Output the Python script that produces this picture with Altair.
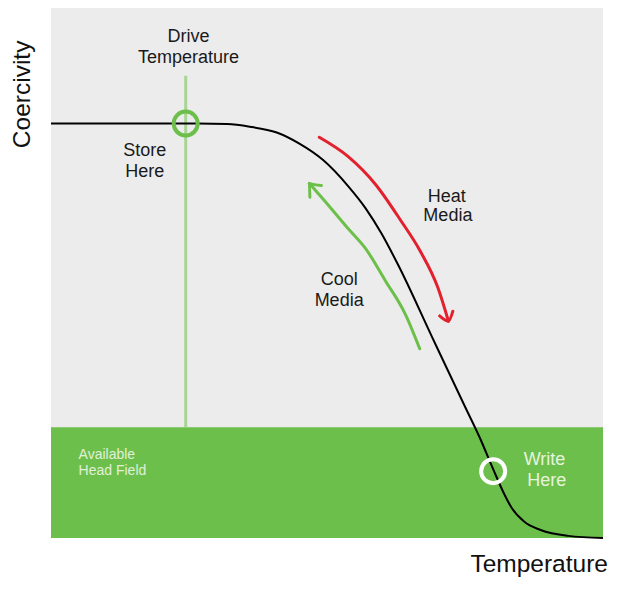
import altair as alt
import pandas as pd

# Coercivity curve (Temperature 0-100, Coercivity 0-100)
curve_t = [0, 26.5, 31.9, 36.0, 40.9, 45.0, 49.3, 53.9, 57.0, 59.9, 62.9, 69.0, 74.9, 77.6, 80.1, 82.1, 83.5, 85.7, 88.7, 93.7, 100]
curve_c = [78.2, 78.2, 78.1, 77.6, 76.5, 74.4, 71.3, 66.3, 62.2, 57.4, 51.5, 38.0, 25.0, 19.1, 13.0, 8.3, 5.6, 3.1, 1.5, 0.4, 0]

# Available head field band
field_top = 20.9

# Drive temperature marker line
drive_t = 24.4
drive_line_top = 87.2

# Markers: store point and write point
marker_t = [24.4, 80.1]
marker_c = [78.2, 12.6]

# Heat arrow (red) path and head
heat_t = [48.6, 53.9, 58.8, 63.3, 66.8, 70.1, 72.0]
heat_c = [75.6, 71.9, 66.7, 60.0, 54.3, 47.2, 40.9]
heat_head_t = [70.4, 72.0, 72.8]
heat_head_c = [41.9, 40.9, 42.8]

# Cool arrow (green) path and head
cool_t = [66.8, 64.2, 60.6, 57.0, 53.9, 50.4, 46.8]
cool_c = [35.7, 42.2, 48.5, 54.6, 58.3, 62.6, 66.9]
cool_head_t = [49.0, 46.8, 46.9]
cool_head_c = [66.5, 66.9, 64.3]

# Labels
dark_labels = ["Drive", "Temperature", "Store", "Here", "Heat", "Media", "Cool", "Media"]
dark_t = [24.9, 24.9, 17.0, 17.0, 71.7, 71.9, 52.2, 52.2]
dark_c = [94.6, 90.6, 73.1, 69.1, 64.4, 60.7, 48.7, 44.8]

write_labels = ["Write", "Here"]
write_t = [89.4, 89.8]
write_c = [14.8, 10.7]

field_labels = ["Available", "Head Field"]
field_t = [5.0, 5.0]
field_c = [15.6, 12.6]

y_title = "Coercivity"
x_title = "Temperature"

FONT = "Liberation Sans"
xs = alt.Scale(domain=[0, 100], nice=False, zero=False)
ys = alt.Scale(domain=[0, 100], nice=False, zero=False)
X = lambda f: alt.X(f, type="quantitative", scale=xs, axis=None)
Y = lambda f: alt.Y(f, type="quantitative", scale=ys, axis=None)

band_df = pd.DataFrame({"x": [0], "x2": [100], "y": [0], "y2": [field_top]})
band = alt.Chart(band_df).mark_rect(color="#6dbf4b").encode(
    x=X("x"), x2="x2", y=Y("y"), y2="y2")

vline_df = pd.DataFrame({"x": [drive_t], "y": [field_top], "y2": [drive_line_top]})
vline = alt.Chart(vline_df).mark_rule(color="#a8d596", strokeWidth=3).encode(
    x=X("x"), y=Y("y"), y2="y2")

curve_df = pd.DataFrame({"x": curve_t, "y": curve_c})
curve = alt.Chart(curve_df).mark_line(color="#000000", strokeWidth=2, interpolate="monotone").encode(
    x=X("x"), y=Y("y"))

def arrow(path_t, path_c, head_t, head_c, color):
    rows = []
    for i, (t, c) in enumerate(zip(path_t, path_c)):
        rows.append({"x": t, "y": c, "o": i, "part": "shaft"})
    for i, (t, c) in enumerate(zip(head_t, head_c)):
        rows.append({"x": t, "y": c, "o": i, "part": "head"})
    df = pd.DataFrame(rows)
    return alt.Chart(df).mark_line(color=color, strokeWidth=3, strokeCap="round",
                                   strokeJoin="round", interpolate="monotone").encode(
        x=X("x"), y=Y("y"), detail="part:N", order="o:Q")

heat = arrow(heat_t, heat_c, heat_head_t, heat_head_c, "#e3202d")
cool = arrow(cool_t, cool_c, cool_head_t, cool_head_c, "#6cc04a")

m_df = pd.DataFrame({"x": marker_t, "y": marker_c, "kind": ["store", "write"]})
markers = alt.Chart(m_df).mark_point(shape="circle", size=576, strokeWidth=4, filled=False, opacity=1).encode(
    x=X("x"), y=Y("y"),
    color=alt.Color("kind:N", scale=alt.Scale(domain=["store", "write"], range=["#6dbf4b", "#ffffff"]), legend=None))

dark_df = pd.DataFrame({"t": dark_labels, "x": dark_t, "y": dark_c})
dark = alt.Chart(dark_df).mark_text(font=FONT, fontSize=18, color="#1a1a1a", align="center", baseline="middle").encode(
    x=X("x"), y=Y("y"), text="t:N")

write_df = pd.DataFrame({"t": write_labels, "x": write_t, "y": write_c})
write = alt.Chart(write_df).mark_text(font=FONT, fontSize=18, color="#e6f3de", align="center", baseline="middle").encode(
    x=X("x"), y=Y("y"), text="t:N")

field_df = pd.DataFrame({"t": field_labels, "x": field_t, "y": field_c})
field = alt.Chart(field_df).mark_text(font=FONT, fontSize=14, color="#e0f0d8", align="left", baseline="middle").encode(
    x=X("x"), y=Y("y"), text="t:N")

ytitle_df = pd.DataFrame({"t": [y_title], "x": [-5.0], "y": [83.7]})
ytitle = alt.Chart(ytitle_df).mark_text(font=FONT, fontSize=24.5, color="#111111", angle=270,
                                        align="center", baseline="middle").encode(
    x=X("x"), y=Y("y"), text="t:N")

xtitle_df = pd.DataFrame({"t": [x_title], "x": [100.9], "y": [-5.0]})
xtitle = alt.Chart(xtitle_df).mark_text(font=FONT, fontSize=24.5, color="#111111",
                                        align="right", baseline="middle").encode(
    x=X("x"), y=Y("y"), text="t:N")

chart = alt.layer(band, vline, curve, heat, cool, markers, dark, write, field, ytitle, xtitle).properties(
    width=552, height=530,
    autosize=alt.AutoSizeParams(type="none"),
    padding={"left": 43, "top": 0, "right": 6, "bottom": 40},
).configure_view(fill="#ececec", strokeWidth=0)

chart.save("out.html", embed_options={"renderer": "svg", "actions": False})
